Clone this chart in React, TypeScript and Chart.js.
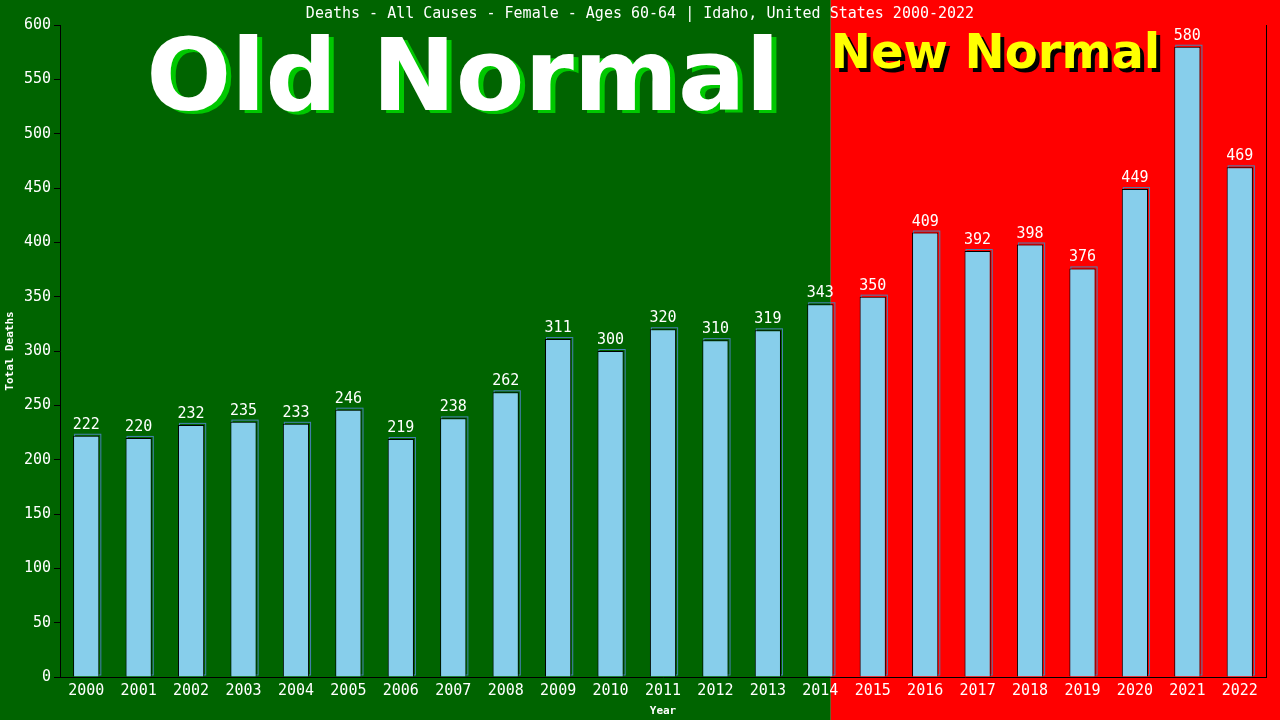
import { useEffect, useRef } from "react"
import { Chart, registerables } from "chart.js"

Chart.register(...registerables)

const years = [
  "2000", "2001", "2002", "2003", "2004", "2005", "2006", "2007", "2008", "2009", "2010", "2011",
  "2012", "2013", "2014", "2015", "2016", "2017", "2018", "2019", "2020", "2021", "2022",
]
const deaths = [222, 220, 232, 235, 233, 246, 219, 238, 262, 311, 300, 320, 310, 319, 343, 350, 409, 392, 398, 376, 449, 580, 469]

const chartTitle = "Deaths - All Causes - Female - Ages 60-64 | Idaho, United States 2000-2022"
// where the green "old normal" part ends, in category units
const splitAt = 14.2

const MONO = "'DejaVu Sans Mono', monospace"
const SANS = "'DejaVu Sans', sans-serif"

const backdrop = {
  id: "backdrop",
  beforeDraw(chart: Chart) {
    const { ctx, width, height, scales } = chart
    const x = scales.x
    const p0 = x.getPixelForValue(Math.floor(splitAt))
    const p1 = x.getPixelForValue(Math.floor(splitAt) + 1)
    const split = p0 + (splitAt - Math.floor(splitAt)) * (p1 - p0)
    ctx.save()
    ctx.fillStyle = "#006400"
    ctx.fillRect(0, 0, split, height)
    ctx.fillStyle = "#ff0000"
    ctx.fillRect(split, 0, width - split, height)

    // big labels
    ctx.font = `bold 100px ${SANS}`
    ctx.textAlign = "center"
    ctx.textBaseline = "alphabetic"
    ctx.fillStyle = "#00c800"
    ctx.fillText("Old Normal", 468, 113)
    ctx.fillStyle = "#ffffff"
    ctx.fillText("Old Normal", 463, 110)

    ctx.font = `bold 48px ${SANS}`
    ctx.textAlign = "left"
    ctx.fillStyle = "#000000"
    ctx.fillText("New Normal", split + 4, 72)
    ctx.fillStyle = "#ffff00"
    ctx.fillText("New Normal", split, 68)

    ctx.font = `15px ${MONO}`
    ctx.textAlign = "center"
    ctx.fillStyle = "#ffffff"
    ctx.fillText(chartTitle, width / 2, 18)
    ctx.restore()
  },
  beforeDatasetsDraw(chart: Chart) {
    const { ctx } = chart
    const meta = chart.getDatasetMeta(0)
    ctx.save()
    ctx.strokeStyle = "#4682b4"
    ctx.lineWidth = 1
    meta.data.forEach((bar: any) => {
      const w = bar.width
      ctx.strokeRect(bar.x - w / 2 + 1.5, bar.y - 1.5, w, bar.base - bar.y)
    })
    ctx.restore()
  },
  afterDatasetsDraw(chart: Chart) {
    const { ctx, chartArea } = chart
    const meta = chart.getDatasetMeta(0)
    ctx.save()
    ctx.font = `15px ${MONO}`
    ctx.fillStyle = "#ffffff"
    ctx.textAlign = "center"
    ctx.textBaseline = "alphabetic"
    meta.data.forEach((bar: any, i: number) => {
      ctx.fillText(String(deaths[i]), bar.x, bar.y - 7)
    })
    ctx.strokeStyle = "#000000"
    ctx.lineWidth = 1
    ctx.beginPath()
    ctx.moveTo(Math.round(chartArea.right) + 0.5, chartArea.top)
    ctx.lineTo(Math.round(chartArea.right) + 0.5, chartArea.bottom)
    ctx.stroke()
    ctx.restore()
  },
}

export default function App() {
  const canvasRef = useRef<HTMLCanvasElement>(null)
  const chartRef = useRef<Chart | null>(null)

  useEffect(() => {
    if (!canvasRef.current) return
    if (chartRef.current) chartRef.current.destroy()

    chartRef.current = new Chart(canvasRef.current, {
      type: "bar",
      data: {
        labels: years,
        datasets: [
          {
            data: deaths,
            backgroundColor: "#87ceeb",
            borderColor: "#000000",
            borderWidth: 1,
            barPercentage: 0.5,
            categoryPercentage: 1,
          },
        ],
      },
      options: {
        animation: false,
        responsive: false,
        devicePixelRatio: 1,
        layout: { padding: { top: 25, right: 14, left: 0, bottom: 0 } },
        plugins: {
          legend: { display: false },
          tooltip: { enabled: false },
        },
        scales: {
          x: {
            afterFit: (s: any) => {
              s.height = 43
            },
            grid: { display: false, drawTicks: false },
            border: { display: true, color: "#000000", width: 1 },
            ticks: { color: "#ffffff", font: { family: MONO, size: 15 }, padding: 5, maxRotation: 0, autoSkip: false },
            title: {
              display: true,
              text: "Year",
              color: "#ffffff",
              font: { family: MONO, size: 11, weight: "bold" },
              padding: { top: 0, bottom: 2 },
            },
          },
          y: {
            min: 0,
            max: 600,
            afterFit: (s: any) => {
              s.width = 60
            },
            grid: { drawOnChartArea: false, color: "#000000", tickLength: 6 },
            border: { display: true, color: "#000000", width: 1 },
            ticks: { stepSize: 50, color: "#ffffff", font: { family: MONO, size: 15 }, padding: 3 },
            title: {
              display: true,
              text: "Total Deaths",
              color: "#ffffff",
              font: { family: MONO, size: 11, weight: "bold" },
              padding: { top: 4, bottom: 0 },
            },
          },
        },
      },
      plugins: [backdrop],
    })

    return () => {
      if (chartRef.current) {
        chartRef.current.destroy()
        chartRef.current = null
      }
    }
  }, [])

  return (
    <div style={{ position: "fixed", left: 0, top: 0, width: 1280, height: 720 }}>
      <canvas ref={canvasRef} width={1280} height={720} />
    </div>
  )
}
